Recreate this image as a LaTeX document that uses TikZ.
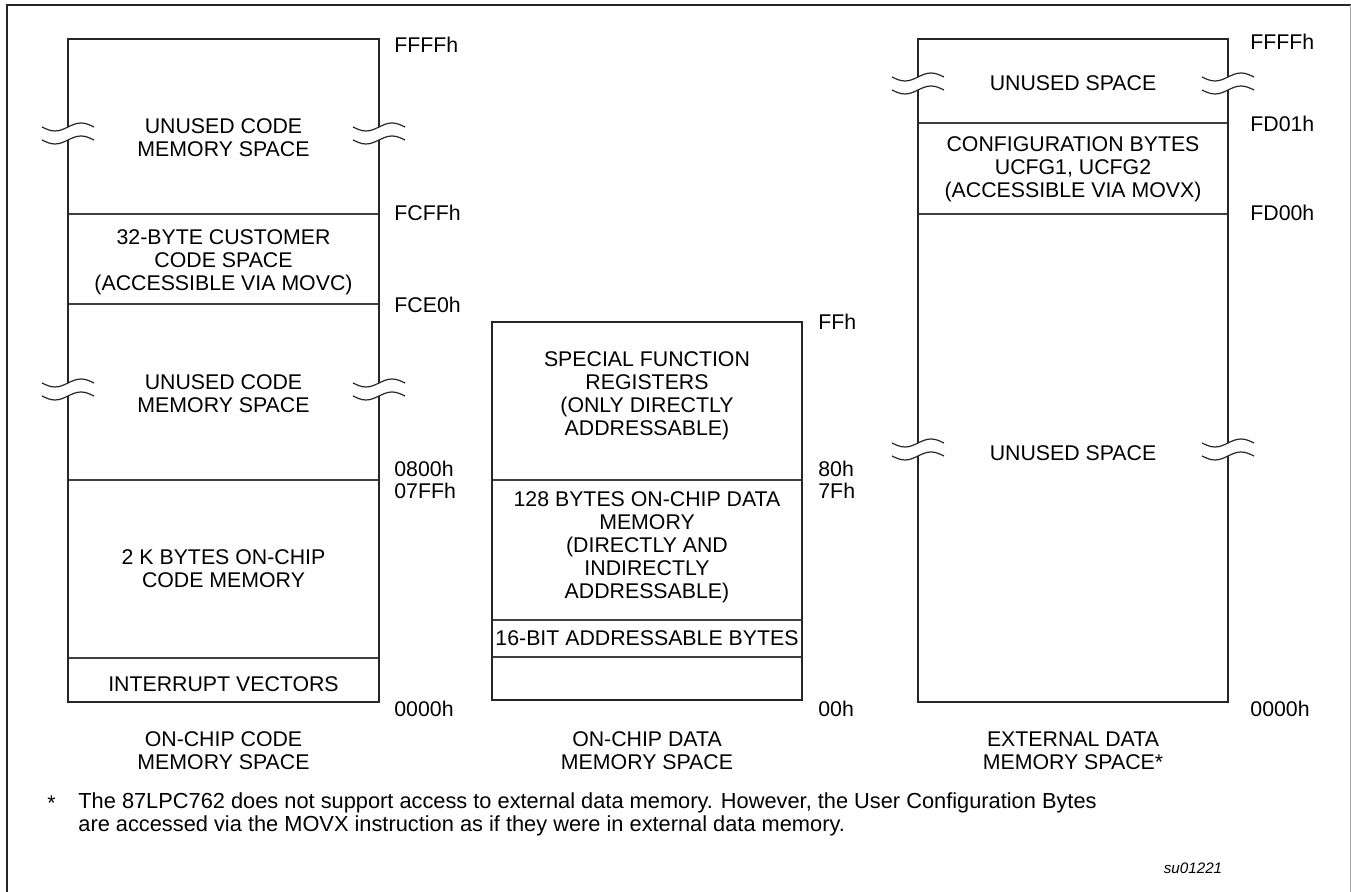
\documentclass[tikz,border=0pt]{standalone}
\usepackage{fontspec}
\setmainfont{Liberation Sans}

% break mark on a box side, centred at x, upper wave at y
\newcommand{\waveBreak}[2]{%
  \fill[white] ({#1-26},{#2}) sin ({#1-13},{#2+4}) cos ({#1},{#2}) sin ({#1+13},{#2-4}) cos ({#1+26},{#2})
    -- ({#1+26},{#2+13}) sin ({#1+13},{#2+9}) cos ({#1},{#2+13}) sin ({#1-13},{#2+17}) cos ({#1-26},{#2+13}) -- cycle;
  \draw[wave] ({#1-26},{#2}) sin ({#1-13},{#2+4}) cos ({#1},{#2}) sin ({#1+13},{#2-4}) cos ({#1+26},{#2});
  \draw[wave] ({#1-26},{#2+13}) sin ({#1-13},{#2+17}) cos ({#1},{#2+13}) sin ({#1+13},{#2+9}) cos ({#1+26},{#2+13});
}

\begin{document}
\begin{tikzpicture}[x=0.5pt,y=-0.5pt]
	\tikzstyle{Mem} = [align=center, inner sep=0pt, font=\fontsize{10.65}{11.5}\selectfont]
	\tikzstyle{addr} = [anchor=west, inner sep=0pt, font=\fontsize{10.65}{11.5}\selectfont]
	\tikzstyle{memBox} = [line width=1.15pt, black!85]
	\tikzstyle{divider} = [line width=0.6pt, black!75]
	\tikzstyle{wave} = [line width=0.6pt, black!85]
	
	\useasboundingbox (0,0) rectangle (1351,892);
	\draw [line width=1.4pt, black!85] (7,892) -- (7,5) -- (1351,5);
	\draw [line width=0.5pt, black!35] (1350,5) -- (1350,892);
	
	% on-chip code memory
	\draw [divider] (68,214) -- (379,214);
	\draw [divider] (68,304) -- (379,304);
	\draw [divider] (68,480) -- (379,480);
	\draw [divider] (68,658) -- (379,658);
	\draw [memBox] (68,39) rectangle (379,702);
	\waveBreak{68}{127}
	\waveBreak{379}{127}
	\waveBreak{68}{383}
	\waveBreak{379}{383}
	\node (cUnusedA) [Mem] at (223.5,138) {UNUSED CODE\\MEMORY SPACE};
	\node (cCustomer) [Mem] at (223.5,262) {32-BYTE CUSTOMER\\CODE SPACE\\(ACCESSIBLE VIA MOVC)};
	\node (cUnusedB) [Mem] at (223.5,394) {UNUSED CODE\\MEMORY SPACE};
	\node (cCode) [Mem] at (223.5,568.5) {2 K BYTES ON-CHIP\\CODE MEMORY};
	\node (cVectors) [Mem] at (223.5,684) {INTERRUPT VECTORS};
	\node (cFFFF) [addr] at (394,45) {FFFFh};
	\node (cFCFF) [addr] at (394,213) {FCFFh};
	\node (cFCE0) [addr] at (394,305) {FCE0h};
	\node (c0800) [addr] at (394,469) {0800h};
	\node (c07FF) [addr] at (394,491) {07FFh};
	\node (c0000) [addr] at (394,709) {0000h};
	\node (cTitle) [Mem] at (223.5,751) {ON-CHIP CODE\\MEMORY SPACE};
	
	% on-chip data memory
	\draw [divider] (492,480) -- (802,480);
	\draw [divider] (492,620) -- (802,620);
	\draw [divider] (492,657) -- (802,657);
	\draw [memBox] (492,322) rectangle (802,700);
	\node (dSfr) [Mem] at (647,395.5) {SPECIAL FUNCTION\\REGISTERS\\(ONLY DIRECTLY\\ADDRESSABLE)};
	\node (dData) [Mem] at (647,547) {128 BYTES ON-CHIP DATA\\MEMORY\\(DIRECTLY AND\\INDIRECTLY\\ADDRESSABLE)};
	\node (dBits) [Mem] at (647,638) {16-BIT ADDRESSABLE BYTES};
	\node (dFF) [addr] at (818,322) {FFh};
	\node (d80) [addr] at (818,469) {80h};
	\node (d7F) [addr] at (818,491) {7Fh};
	\node (d00) [addr] at (818,709) {00h};
	\node (dTitle) [Mem] at (647,751) {ON-CHIP DATA\\MEMORY SPACE};
	
	% external data memory
	\draw [divider] (918,123) -- (1228,123);
	\draw [divider] (918,214) -- (1228,214);
	\draw [memBox] (918,39) rectangle (1228,702);
	\waveBreak{918}{77}
	\waveBreak{1228}{77}
	\waveBreak{918}{443}
	\waveBreak{1228}{443}
	\node (xUnusedA) [Mem] at (1073,83) {UNUSED SPACE};
	\node (xConfig) [Mem] at (1073,169) {CONFIGURATION BYTES\\UCFG1, UCFG2\\(ACCESSIBLE VIA MOVX)};
	\node (xUnusedB) [Mem] at (1073,453) {UNUSED SPACE};
	\node (xFFFF) [addr] at (1250,42) {FFFFh};
	\node (xFD01) [addr] at (1250,124) {FD01h};
	\node (xFD00) [addr] at (1250,213) {FD00h};
	\node (x0000) [addr] at (1250,709) {0000h};
	\node (xTitle) [Mem] at (1073,751) {EXTERNAL DATA\\MEMORY SPACE*};
	
	% footnote
	\node (star) [addr, anchor=base west] at (47,810.5) {*};
	\node (note) [addr, align=left, font=\fontsize{10.9}{11.5}\selectfont] at (78,814) {The 87LPC762 does not support access to external data memory. However, the User Configuration Bytes\\are accessed via the MOVX instruction as if they were in external data memory.};
	\node (figId) [inner sep=0pt, font=\fontsize{7.6}{9}\selectfont\itshape] at (1193,868) {su01221};
\end{tikzpicture}
\end{document}
